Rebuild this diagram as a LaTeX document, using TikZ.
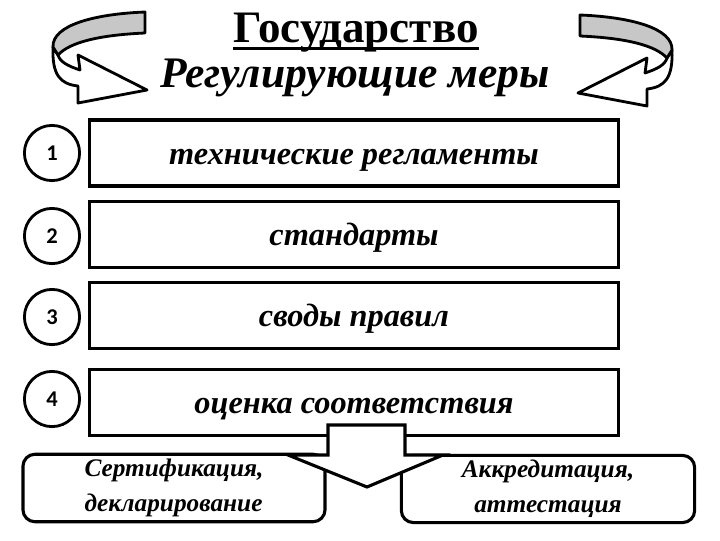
\documentclass[tikz,border=0pt]{standalone}
\usepackage{fontspec}
\setmainfont{Liberation Serif}
\newfontfamily\numfont{Carlito}
\usetikzlibrary{positioning}
\newsavebox{\headbox}
\newcommand{\headline}[1]{\sbox{\headbox}{#1}\rlap{\rule[-5pt]{\wd\headbox}{2.2pt}}\usebox{\headbox}}
\tikzset{
    title/.style={align=center, font=\fontsize{32}{38}\selectfont\bfseries},
    measure/.style={rectangle, draw=black, line width=2.2pt, minimum width=13.2cm, minimum height=1.65cm, align=center, text height=18pt, text depth=2pt, font=\fontsize{23}{28}\selectfont\bfseries\itshape},
    number/.style={circle, draw=black, line width=2pt, minimum size=1.38cm, inner sep=0pt, font=\numfont\fontsize{16}{19}\selectfont\bfseries},
    result/.style={rectangle, rounded corners=0.3cm, draw=black, line width=2.2pt, minimum height=1.6cm, font=\fontsize{18}{25}\selectfont\bfseries\itshape},
    turn/.style={draw=black, line width=2pt, line join=round},
    blockarrow/.style={draw=black, fill=white, line width=2.2pt, line join=miter}
}
% bent arrow beside the heading
\newcommand{\turnarrow}{%
    \filldraw[turn, fill=white] (53,47) .. controls (52,75) and (60,84) .. (78,86) -- (78,103) -- (147,90) -- (78,55) -- (80,70) .. controls (68,66) and (60,62) .. (58,55) -- cycle;
    \filldraw[turn, fill=black!22] (145,12) .. controls (95,14) and (52,25) .. (53,47) -- (58,55) .. controls (70,42) and (100,35) .. (145,33) -- cycle;
}

\begin{document}
\begin{tikzpicture}[x=0.025cm, y=-0.025cm, node distance=0.3cm]
    \useasboundingbox (0,0) rectangle (720,540);

    \turnarrow
    \begin{scope}[shift={(725,3)}, xscale=-1]
        \turnarrow
    \end{scope}

    \node (state) [title] at (356,33) {\headline{Государство}};
    \node (measures) [title, font=\fontsize{31}{37}\selectfont\bfseries\itshape] at (355,78) {Регулирующие меры};

    \node (regl) [measure] at (354,153) {технические регламенты};
    \node (std) [measure, below=of regl] {стандарты};
    \node (rules) [measure, below=of std] {своды правил};
    \node (assess) [measure, below=0.45cm of rules] {оценка соответствия};

    \node (n1) [number] at (52,153) {1};
    \node (n2) [number] at (52,236) {2};
    \node (n3) [number] at (52,317) {3};
    \node (n4) [number] at (52,399) {4};

    \node (cert) [result, minimum width=7.55cm, align=left] at (174,488) {Сертификация,\\декларирование};
    \node (accr) [result, minimum width=7.33cm, align=center] at (548,489) {Аккредитация,\\аттестация};

    \filldraw[blockarrow] (328,425) -- (405,425) -- (405,455) -- (443,455) -- (367,487) -- (288,455) -- (328,455) -- cycle;
\end{tikzpicture}
\end{document}
